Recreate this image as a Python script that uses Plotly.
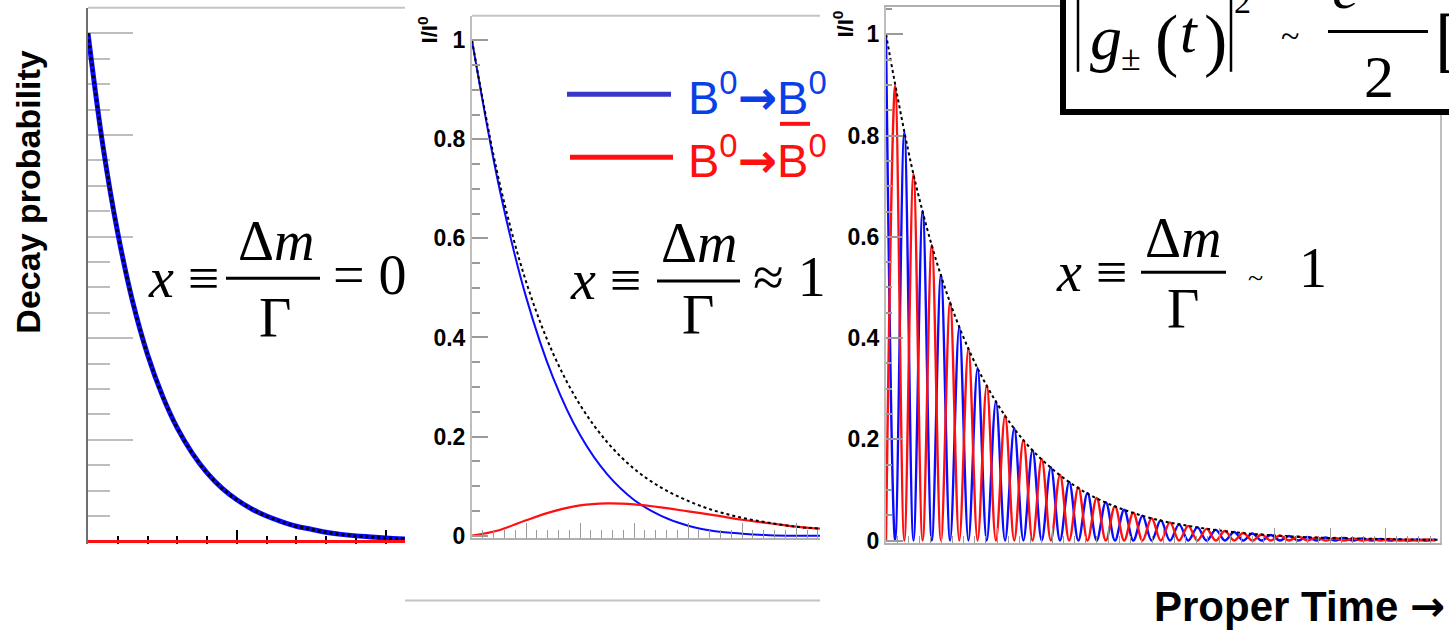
import plotly.graph_objects as go

W, H = 1449, 641

# ---------------- data ----------------
# Panel 1: x = 0, pure exponential decay (time in tick units)
p1_t = [0, 0.5, 1, 1.5, 2, 2.5, 3, 3.5, 4, 4.5, 5, 5.5, 6, 6.5, 7, 7.5, 8, 8.5, 9, 9.5, 10, 10.65]
p1_decay = [1.000, 0.779, 0.607, 0.472, 0.368, 0.287, 0.223, 0.174, 0.135, 0.105, 0.082, 0.064,
            0.050, 0.039, 0.030, 0.024, 0.018, 0.014, 0.011, 0.009, 0.007, 0.005]
p1_mixed_t = [0, 10.65]
p1_mixed = [0.0, 0.0]

# Panel 2: x ~ 1
p2_t = [0, 0.5, 1, 1.5, 2, 2.5, 3, 3.5, 4, 4.5, 5, 5.5, 6, 6.44]
p2_envelope = [1.000, 0.717, 0.513, 0.368, 0.264, 0.189, 0.135, 0.097, 0.070, 0.050, 0.036, 0.026, 0.018, 0.014]
p2_unmixed = [1.000, 0.705, 0.482, 0.319, 0.203, 0.124, 0.072, 0.040, 0.020, 0.009, 0.004, 0.001, 0.000, 0.000]
p2_mixed = [0.000, 0.011, 0.031, 0.049, 0.061, 0.065, 0.063, 0.057, 0.049, 0.041, 0.032, 0.025, 0.018, 0.014]

# Panel 3: fast oscillation
p3_t = [0, 0.5, 1, 1.5, 2, 2.5, 3, 3.5, 4, 4.5, 5, 5.5, 6, 6.5, 7, 7.5, 8, 8.5, 9, 9.5, 10]
p3_envelope = [1.000, 0.721, 0.520, 0.375, 0.271, 0.195, 0.141, 0.101, 0.073, 0.053, 0.038, 0.028,
               0.020, 0.014, 0.010, 0.007, 0.005, 0.004, 0.003, 0.002, 0.0015]
p3_half_period = 0.165
p3_unmixed_peaks = [1.000, 0.807, 0.651, 0.525, 0.423, 0.341, 0.275, 0.222, 0.179, 0.145, 0.116,
                    0.094, 0.076, 0.061, 0.049, 0.040, 0.032, 0.026, 0.021, 0.017, 0.014, 0.011,
                    0.009, 0.007, 0.006, 0.005, 0.004, 0.003, 0.002, 0.002, 0.002]
p3_mixed_peaks = [0.898, 0.724, 0.584, 0.471, 0.380, 0.307, 0.247, 0.199, 0.161, 0.130, 0.105,
                  0.084, 0.068, 0.055, 0.044, 0.036, 0.029, 0.023, 0.019, 0.015, 0.012, 0.010,
                  0.008, 0.006, 0.005, 0.004, 0.003, 0.003, 0.002, 0.002]

y_tickvals = [0, 0.2, 0.4, 0.6, 0.8, 1.0]
y_ticktext = ["0", "0.2", "0.4", "0.6", "0.8", "1"]

# build the oscillation traces: peaks alternate with zeros
n_pts = 2 * len(p3_mixed_peaks) + 1
p3_x, p3_blue, p3_red = [], [], []
for i in range(n_pts):
    p3_x.append(i * p3_half_period)
    p3_blue.append(p3_unmixed_peaks[i // 2] if i % 2 == 0 else 0.0)
    p3_red.append(p3_mixed_peaks[i // 2] if i % 2 == 1 else 0.0)

BLUE = "#0a0aff"
RED = "#ff1010"


def px(x):
    return x / W


def py(y):
    return 1 - y / H


fig = go.Figure()

# Panel 1
fig.add_trace(go.Scatter(x=p1_t, y=p1_decay, mode="lines", line=dict(color=BLUE, width=5, shape="spline"),
                         xaxis="x", yaxis="y", showlegend=False))
fig.add_trace(go.Scatter(x=p1_t, y=p1_decay, mode="lines", line=dict(color="black", width=3, dash="dot", shape="spline"),
                         xaxis="x", yaxis="y", showlegend=False))
fig.add_trace(go.Scatter(x=p1_mixed_t, y=p1_mixed, mode="lines", line=dict(color=RED, width=3),
                         xaxis="x", yaxis="y", showlegend=False))

# Panel 2
fig.add_trace(go.Scatter(x=p2_t, y=p2_unmixed, mode="lines", line=dict(color=BLUE, width=2, shape="spline"),
                         xaxis="x2", yaxis="y2", showlegend=False))
fig.add_trace(go.Scatter(x=p2_t, y=p2_mixed, mode="lines", line=dict(color=RED, width=2.2, shape="spline"),
                         xaxis="x2", yaxis="y2", showlegend=False))
fig.add_trace(go.Scatter(x=p2_t, y=p2_envelope, mode="lines", line=dict(color="black", width=2, dash="dot", shape="spline"),
                         xaxis="x2", yaxis="y2", showlegend=False))

# Panel 3
fig.add_trace(go.Scatter(x=p3_x, y=p3_blue, mode="lines", line=dict(color=BLUE, width=2.4, shape="spline"),
                         xaxis="x3", yaxis="y3", showlegend=False))
fig.add_trace(go.Scatter(x=p3_x, y=p3_red, mode="lines", line=dict(color=RED, width=2.4, shape="spline"),
                         xaxis="x3", yaxis="y3", showlegend=False))
fig.add_trace(go.Scatter(x=p3_t, y=p3_envelope, mode="lines", line=dict(color="black", width=2, dash="dot", shape="spline"),
                         xaxis="x3", yaxis="y3", showlegend=False))

tickfont = dict(family="Liberation Sans", size=23, color="black", weight="bold")

fig.update_layout(
    width=W, height=H, margin=dict(l=0, r=0, t=0, b=0),
    paper_bgcolor="white", plot_bgcolor="white",
    xaxis=dict(domain=[px(88), px(405)], range=[0, 10.65], showgrid=False, zeroline=False,
               showline=False, ticks="inside", tickcolor="black", ticklen=14, tickwidth=1.5,
               tick0=0, dtick=5, showticklabels=False, layer="below traces",
               minor=dict(ticks="inside", dtick=1, ticklen=8, tickcolor="black", tickwidth=1.5),
               anchor="y", fixedrange=True),
    yaxis=dict(domain=[py(553), py(8)], range=[-0.004, 1.050], showgrid=False, zeroline=False,
               showline=True, linecolor="#6e6e6e", linewidth=2, ticks="inside", tickcolor="#bdbdbd",
               ticklen=45, tickwidth=2, tickvals=[0.2, 0.4, 0.6, 0.8, 1.0], showticklabels=False,
               layer="below traces",
               minor=dict(ticks="inside", tickvals=[0.05, 0.1, 0.15, 0.25, 0.3, 0.35, 0.45, 0.5, 0.55,
                                                    0.65, 0.7, 0.75, 0.85, 0.9, 0.95],
                          ticklen=22, tickcolor="#bdbdbd", tickwidth=2),
               anchor="x", fixedrange=True),
    xaxis2=dict(domain=[px(472), px(820)], range=[0, 6.44], showgrid=False, zeroline=False,
                showline=True, linecolor="#b0b0b0", linewidth=2, ticks="inside", tickcolor="#9a9a9a",
                ticklen=15, tickwidth=1.2, tick0=0, dtick=1, showticklabels=False,
                minor=dict(ticks="inside", dtick=0.2, ticklen=8, tickcolor="#9a9a9a", tickwidth=1.2),
                anchor="y2", fixedrange=True),
    yaxis2=dict(domain=[py(547), py(16)], range=[-0.004, 1.0496], showgrid=False, zeroline=False,
                showline=True, linecolor="#bdbdbd", linewidth=2, ticks="inside", tickcolor="#9a9a9a",
                ticklen=16, tickwidth=1.5, tickvals=y_tickvals, ticktext=y_ticktext, tickfont=tickfont,
                minor=dict(ticks="inside", dtick=0.05, ticklen=8, tickcolor="#9a9a9a", tickwidth=1.5),
                anchor="x2", fixedrange=True),
    xaxis3=dict(domain=[px(886), px(1440)], range=[0, 9.98], showgrid=False, zeroline=False,
                showline=True, mirror=True, linecolor="#b0b0b0", linewidth=2, ticks="inside",
                tickcolor="#9a9a9a", ticklen=15, tickwidth=1.2, tick0=0, dtick=1, showticklabels=False,
                minor=dict(ticks="inside", dtick=0.2, ticklen=7, tickcolor="#9a9a9a", tickwidth=1.2),
                anchor="y3", fixedrange=True),
    yaxis3=dict(domain=[py(552), py(7)], range=[-0.0039, 1.0544], showgrid=False, zeroline=False,
                showline=True, mirror=True, linecolor="#bdbdbd", linewidth=2, ticks="inside",
                tickcolor="#9a9a9a", ticklen=17, tickwidth=1.5, tickvals=y_tickvals,
                ticktext=y_ticktext, tickfont=tickfont,
                minor=dict(ticks="inside", dtick=0.05, ticklen=6, tickcolor="#9a9a9a", tickwidth=1.5),
                anchor="x3", fixedrange=True),
)

shapes = []
annotations = []


def hline(x0, x1, y, color, width):
    shapes.append(dict(type="line", xref="paper", yref="paper", x0=px(x0), x1=px(x1), y0=py(y), y1=py(y),
                       line=dict(color=color, width=width), layer="above"))


def vline(x, y0, y1, color, width):
    shapes.append(dict(type="line", xref="paper", yref="paper", x0=px(x), x1=px(x), y0=py(y0), y1=py(y1),
                       line=dict(color=color, width=width), layer="above"))


def text(t, x, y, size, family="Liberation Serif", color="black", weight="normal", angle=0, xanchor="center"):
    annotations.append(dict(text=t, x=px(x), y=py(y), xref="paper", yref="paper", showarrow=False,
                            xanchor=xanchor, yanchor="middle", textangle=angle,
                            font=dict(family=family, size=size, color=color, weight=weight)))


ARROW = '<span style="font-family:DejaVu Sans;font-weight:bold">→</span>'

# borders
hline(88, 405, 8, "#c4c4c4", 2)
hline(472, 820, 16, "#c4c4c4", 2)
hline(405, 820, 611, "#c4c4c4", 2)

# axis titles
text("Decay probability", 28, 195, 34, family="Liberation Sans", weight="bold", angle=-90)
text("I/I<sup>0</sup>", 428, 31, 22, family="Liberation Sans", weight="bold", angle=-90)
text("I/I<sup>0</sup>", 843, 24, 22, family="Liberation Sans", weight="bold", angle=-90)
text("Proper Time " + ARROW, 1447, 617, 42, family="Liberation Sans", weight="bold", xanchor="right")

# formulas: x = dm / Gamma
MS = 56
# panel 1
text("<i>x</i> ≡", 183, 283, MS)
text("Δ<i>m</i>", 276, 245, MS)
hline(226, 320, 283, "black", 3)
text("Γ", 275, 324, MS)
text("= 0", 370, 280, MS)
# panel 2
text("<i>x</i> ≡", 605, 285, MS)
text("Δ<i>m</i>", 699, 247, MS)
hline(657, 740, 286, "black", 3)
text("Γ", 698, 320, MS)
text("≈ 1", 789, 282, MS)
# panel 3
text("<i>x</i> ≡", 1091, 277, MS)
text("Δ<i>m</i>", 1183, 242, MS)
hline(1141, 1226, 277, "black", 3)
text("Γ", 1183, 314, MS)
text("~", 1255, 282, 28)
text("1", 1313, 273, MS)

# legend in panel 2
hline(567, 671, 96, "#3838c8", 5)
text("B<sup>0</sup>" + ARROW + "B<sup>0</sup>", 757, 96, 47, family="Liberation Sans", color="#0b3fe6")
hline(570, 673, 160, RED, 5)
text("B<sup>0</sup>" + ARROW + "B<sup>0</sup>", 757, 160, 47, family="Liberation Sans", color=RED)
hline(780, 810, 126, RED, 4)

# formula box (top right)
shapes.append(dict(type="rect", xref="paper", yref="paper", x0=px(1063), x1=px(1470), y0=py(114), y1=py(-20),
                   line=dict(color="black", width=6), fillcolor="white", layer="above"))
vline(1078, -5, 73, "black", 2.5)
text("<i>g</i>", 1106, 38, 64)
text("±", 1131, 59, 36)
text("(", 1166, 40, 70)
text("<i>t</i>", 1189, 33, 60)
text(")", 1215, 40, 70)
vline(1231, -5, 73, "black", 2.5)
text("2", 1242, 2, 34)
text("~", 1290, 36, 34)
hline(1328, 1428, 32, "black", 3)
text("<i>e</i>", 1345, -12, 60)
text("2", 1379, 78, 60)
text("[", 1447, 40, 72)

fig.update_layout(shapes=shapes, annotations=annotations)

fig.write_html("out.html", config={"displayModeBar": False},
               post_script="document.body.style.margin='0';document.body.style.overflow='hidden';")
